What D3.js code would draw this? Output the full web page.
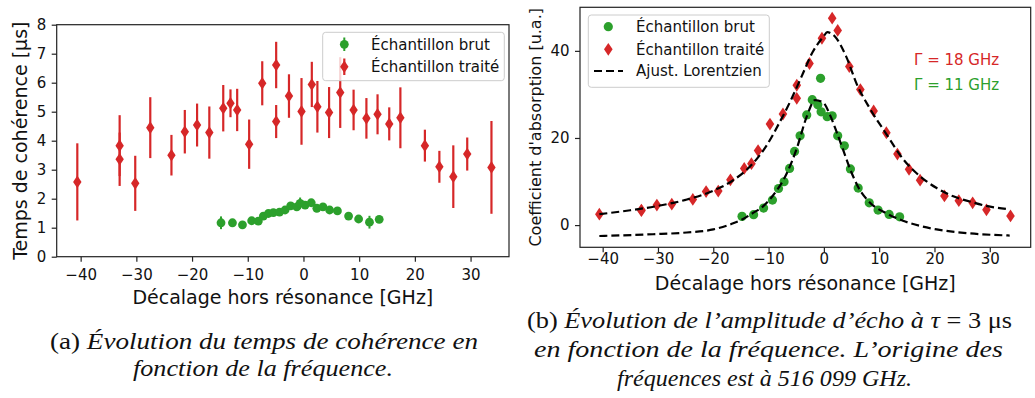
<!DOCTYPE html>
<html><head><meta charset="utf-8">
<script src="https://cdn.jsdelivr.net/npm/d3@7"></script>
<style>body{margin:0;background:#fff}svg{display:block}</style>
</head><body>
<svg id="c" width="1035" height="398"></svg>
<script>
// ---------- DATA ----------
// (a) coherence time vs detuning
const coherXBrut = [-14.8, -12.75, -10.95, -9.3, -8.1, -7.2, -6.3, -5.4, -4.3, -3.3, -2.3, -1.2, -0.6, 0.3, 1.4, 2.4, 3.5, 4.7, 6.1, 8.1, 9.9, 11.85, 13.6];
const coherYBrut = [1.17, 1.17, 1.10, 1.24, 1.23, 1.40, 1.49, 1.52, 1.54, 1.61, 1.75, 1.72, 1.84, 1.78, 1.86, 1.67, 1.72, 1.61, 1.58, 1.40, 1.30, 1.19, 1.29];
const coherErrBrut = [0.22, 0.1, 0.1, 0.12, 0.1, 0.1, 0.08, 0.1, 0.1, 0.1, 0.12, 0.1, 0.2, 0.1, 0.1, 0.1, 0.1, 0.1, 0.1, 0.1, 0.1, 0.22, 0.1];

const coherXTraite = [-40.6, -33.0, -33.0, -30.2, -27.5, -23.7, -21.3, -19.1, -16.9, -14.4, -13.1, -11.9, -9.75, -7.4, -4.9, -4.9, -2.6, -0.35, 1.5, 2.5, 4.6, 6.6, 9.0, 11.3, 13.3, 15.4, 17.4, 21.8, 24.4, 26.9, 29.4, 33.75];
const coherYTraite = [2.58, 3.83, 3.36, 2.53, 4.45, 3.50, 4.31, 4.54, 4.28, 5.12, 5.29, 5.06, 3.88, 5.98, 6.61, 4.66, 5.54, 5.01, 5.94, 5.17, 4.97, 5.66, 5.06, 4.77, 4.91, 4.58, 4.79, 3.83, 3.10, 2.76, 3.54, 3.08];
const coherErrTraite = [1.33, 1.05, 0.92, 0.95, 1.05, 0.70, 0.75, 0.74, 0.90, 0.80, 0.48, 0.73, 0.85, 0.76, 0.80, 0.57, 0.75, 1.15, 0.78, 0.89, 0.88, 1.22, 0.70, 0.70, 0.69, 0.57, 1.05, 0.55, 0.55, 1.08, 0.57, 1.60];

// (b) echo amplitude vs detuning
const absXBrut = [-14.8, -12.7, -10.9, -9.3, -8.2, -7.2, -6.2, -5.3, -4.3, -3.1, -2.1, -1.1, -0.6, -0.5, 0.6, 1.5, 2.5, 3.7, 4.8, 6.2, 8.2, 9.8, 11.8, 13.7];
const absYBrut = [2.0, 2.4, 3.9, 5.75, 8.4, 9.95, 13.0, 16.9, 20.5, 25.3, 28.8, 27.6, 33.7, 26.0, 24.9, 25.1, 20.5, 18.2, 12.9, 8.5, 5.1, 3.45, 2.45, 1.9];

const absXTraite = [-40.6, -33.0, -33.0, -30.2, -27.5, -23.7, -21.3, -19.1, -16.9, -14.4, -13.1, -11.9, -9.75, -7.4, -4.9, -4.9, -2.6, -0.35, 1.5, 2.5, 4.6, 6.6, 9.0, 11.3, 13.3, 15.4, 17.4, 21.8, 24.4, 26.9, 29.4, 33.75];
const absYTraite = [2.5, 3.45, 3.3, 4.6, 4.8, 5.9, 7.7, 7.8, 10.4, 13.0, 14.1, 17.1, 23.2, 25.5, 32.1, 29.1, 37.1, 42.9, 47.5, 44.7, 36.4, 31.1, 26.2, 21.2, 16.3, 12.8, 10.3, 6.7, 5.6, 5.1, 3.5, 2.1];

// Lorentzian fits
const fitXTraite = [-40.6, -35, -30, -25, -20, -16.4, -12.8, -10.4, -8, -6, -4, -2, 0, 0.6, 2, 4, 6, 8.3, 11.3, 14.3, 17.4, 20.4, 23.4, 26.4, 29.4, 33.6];
const fitYTraite = [2.5, 3.4, 4.4, 5.8, 7.9, 10.3, 14.2, 18.2, 23.6, 28.6, 34.2, 39.8, 43.4, 44.3, 43.3, 38.8, 32.2, 26.8, 20.9, 15.2, 11.2, 8.5, 6.6, 5.4, 4.4, 3.6];
const fitXBrut = [-40.6, -30.9, -24.8, -20, -16.4, -14.6, -12.8, -11, -9.2, -6.7, -4.9, -3.1, -1.6, -0.1, 1.1, 2.3, 3.5, 4.7, 6.3, 8.3, 11.3, 14.3, 17.4, 20.4, 26.4, 33.6];
const fitYBrut = [-2.5, -2.1, -1.7, -1.0, 0.4, 1.4, 2.8, 4.3, 6.8, 11.9, 17.6, 24.9, 28.7, 28.1, 25.3, 21.4, 17.2, 13.0, 8.5, 5.2, 2.7, 1.0, -0.2, -1.0, -1.9, -2.4];

const xTicks = [-40, -30, -20, -10, 0, 10, 20, 30];
const yTicksA = [0, 1, 2, 3, 4, 5, 6, 7, 8];
const yTicksB = [0, 20, 40];

const labelsText = {
  xlabel: "Décalage hors résonance [GHz]",
  ylabelA: "Temps de cohérence [μs]",
  ylabelB: "Coefficient d'absorption [u.a.]",
  brut: "Échantillon brut",
  traite: "Échantillon traité",
  fit: "Ajust. Lorentzien",
  gamma18: "Γ = 18 GHz",
  gamma11: "Γ = 11 GHz"
};

// ---------- DRAW ----------
const RED = "#d62728", GREEN = "#2ca02c";
const FONT = "'DejaVu Sans', sans-serif";
const svg = d3.select("#c");
const fmt = d3.format("");

function diamond(w, h) { return `M0,${-h}L${w},0L0,${h}L${-w},0Z`; }

function frame(g, x, y, xt, yt, xPad, yPad) {
  const [x0, x1] = x.range(), [y0, y1] = y.range();
  const ax = g.append("g").attr("transform", `translate(0,${y0})`)
    .call(d3.axisBottom(x).tickValues(xt).tickSize(5).tickPadding(xPad).tickFormat(fmt));
  const ay = g.append("g").attr("transform", `translate(${x0},0)`)
    .call(d3.axisLeft(y).tickValues(yt).tickSize(5).tickPadding(yPad).tickFormat(fmt));
  [ax, ay].forEach(a => {
    a.select(".domain").remove();
    a.selectAll("line").attr("stroke", "#222").attr("stroke-width", 1.2);
    a.selectAll("text").attr("font-family", FONT).attr("font-size", 15).attr("fill", "#111");
  });
  g.append("rect").attr("x", x0).attr("y", y1).attr("width", x1 - x0).attr("height", y0 - y1)
    .attr("fill", "none").attr("stroke", "#222").attr("stroke-width", 1.2);
}

// ---- Panel (a) ----
const xA = d3.scaleLinear().domain([-44.3, 36.9]).range([56.7, 509]);
const yA = d3.scaleLinear().domain([0, 8]).range([256.7, 24.7]);
const gA = svg.append("g");

const brutA = coherXBrut.map((v, i) => ({x: v, y: coherYBrut[i], e: coherErrBrut[i]}));
const traiteA = coherXTraite.map((v, i) => ({x: v, y: coherYTraite[i], e: coherErrTraite[i]}));

gA.append("g").selectAll("line").data(brutA).join("line")
  .attr("x1", d => xA(d.x)).attr("x2", d => xA(d.x))
  .attr("y1", d => yA(d.y - d.e)).attr("y2", d => yA(d.y + d.e))
  .attr("stroke", GREEN).attr("stroke-width", 2);
gA.append("g").selectAll("circle").data(brutA).join("circle")
  .attr("cx", d => xA(d.x)).attr("cy", d => yA(d.y)).attr("r", 4.4).attr("fill", GREEN);

gA.append("g").selectAll("line").data(traiteA).join("line")
  .attr("x1", d => xA(d.x)).attr("x2", d => xA(d.x))
  .attr("y1", d => yA(d.y - d.e)).attr("y2", d => yA(d.y + d.e))
  .attr("stroke", RED).attr("stroke-width", 2.2);
gA.append("g").selectAll("path").data(traiteA).join("path")
  .attr("transform", d => `translate(${xA(d.x)},${yA(d.y)})`)
  .attr("d", diamond(4.2, 6.3)).attr("fill", RED);

frame(gA, xA, yA, xTicks, yTicksA, 8, 5.5);

gA.append("text").attr("x", xA(-3.7)).attr("y", 304)
  .attr("text-anchor", "middle").attr("font-family", FONT).attr("font-size", 19).attr("fill", "#111")
  .text(labelsText.xlabel);
gA.append("text").attr("transform", "translate(26.5,140.7) rotate(-90)")
  .attr("text-anchor", "middle").attr("font-family", FONT).attr("font-size", 19).attr("fill", "#111")
  .text(labelsText.ylabelA);

// legend (a)
const lgA = gA.append("g");
lgA.append("rect").attr("x", 322.7).attr("y", 32.3).attr("width", 181.6).attr("height", 48.4).attr("rx", 3)
  .attr("fill", "#fff").attr("fill-opacity", 0.8).attr("stroke", "#ccc").attr("stroke-width", 1);
lgA.append("line").attr("x1", 344.3).attr("x2", 344.3).attr("y1", 37.5).attr("y2", 51)
  .attr("stroke", GREEN).attr("stroke-width", 2);
lgA.append("circle").attr("cx", 344.3).attr("cy", 44.3).attr("r", 4.4).attr("fill", GREEN);
lgA.append("line").attr("x1", 344.3).attr("x2", 344.3).attr("y1", 58.5).attr("y2", 75)
  .attr("stroke", RED).attr("stroke-width", 2.2);
lgA.append("path").attr("transform", "translate(344.3,66.7)").attr("d", diamond(4.2, 6.3)).attr("fill", RED);
lgA.append("text").attr("x", 371).attr("y", 49.7).attr("font-family", FONT).attr("font-size", 15).attr("fill", "#111").text(labelsText.brut);
lgA.append("text").attr("x", 371).attr("y", 72.1).attr("font-family", FONT).attr("font-size", 15).attr("fill", "#111").text(labelsText.traite);

// ---- Panel (b) ----
const xB = d3.scaleLinear().domain([-44.1, 37.4]).range([580, 1030.7]);
const yB = d3.scaleLinear().domain([-5.1, 50]).range([247.3, 7.3]);
const gB = svg.append("g");

const brutB = absXBrut.map((v, i) => ({x: v, y: absYBrut[i]}));
const traiteB = absXTraite.map((v, i) => ({x: v, y: absYTraite[i]}));

gB.append("g").selectAll("circle").data(brutB).join("circle")
  .attr("cx", d => xB(d.x)).attr("cy", d => yB(d.y)).attr("r", 4.6).attr("fill", GREEN);
gB.append("g").selectAll("path").data(traiteB).join("path")
  .attr("transform", d => `translate(${xB(d.x)},${yB(d.y)})`)
  .attr("d", diamond(4.3, 6.4)).attr("fill", RED);

const line = d3.line().x(d => xB(d[0])).y(d => yB(d[1])).curve(d3.curveMonotoneX);
gB.append("path").attr("d", line(fitXTraite.map((v, i) => [v, fitYTraite[i]])))
  .attr("fill", "none").attr("stroke", "#000").attr("stroke-width", 2.2).attr("stroke-dasharray", "8,4");
gB.append("path").attr("d", line(fitXBrut.map((v, i) => [v, fitYBrut[i]])))
  .attr("fill", "none").attr("stroke", "#000").attr("stroke-width", 2.2).attr("stroke-dasharray", "8,4");

frame(gB, xB, yB, xTicks, yTicksB, 1.5, 5.5);

gB.append("text").attr("x", 805.3).attr("y", 289.5)
  .attr("text-anchor", "middle").attr("font-family", FONT).attr("font-size", 19).attr("fill", "#111")
  .text(labelsText.xlabel);
gB.append("text").attr("transform", "translate(541,127.3) rotate(-90)")
  .attr("text-anchor", "middle").attr("font-family", FONT).attr("font-size", 16).attr("fill", "#111")
  .text(labelsText.ylabelB);

gB.append("text").attr("x", 914).attr("y", 64.5).attr("font-family", FONT).attr("font-size", 15).attr("fill", RED).text(labelsText.gamma18);
gB.append("text").attr("x", 914).attr("y", 89.8).attr("font-family", FONT).attr("font-size", 15).attr("fill", GREEN).text(labelsText.gamma11);

const lgB = gB.append("g");
lgB.append("rect").attr("x", 588.3).attr("y", 15).attr("width", 181).attr("height", 72.3).attr("rx", 3)
  .attr("fill", "#fff").attr("fill-opacity", 0.8).attr("stroke", "#ccc").attr("stroke-width", 1);
lgB.append("circle").attr("cx", 608.3).attr("cy", 26.7).attr("r", 4.6).attr("fill", GREEN);
lgB.append("path").attr("transform", "translate(608.3,49.3)").attr("d", diamond(4.3, 6.4)).attr("fill", RED);
lgB.append("line").attr("x1", 594).attr("x2", 623).attr("y1", 71).attr("y2", 71)
  .attr("stroke", "#000").attr("stroke-width", 2.2).attr("stroke-dasharray", "8,4");
[[labelsText.brut, 32.1], [labelsText.traite, 54.7], [labelsText.fit, 76.4]].forEach(([t, yy]) =>
  lgB.append("text").attr("x", 636).attr("y", yy).attr("font-family", FONT).attr("font-size", 15).attr("fill", "#111").text(t));

// ---- Captions ----
const SERIF = "'Liberation Serif', serif";
function caption(cx, y, w, parts) {
  const t = svg.append("text").attr("x", cx).attr("y", y).attr("text-anchor", "middle")
    .attr("font-family", SERIF).attr("font-size", 23).attr("fill", "#111")
    .attr("textLength", w).attr("lengthAdjust", "spacingAndGlyphs");
  parts.forEach(([s, it]) => t.append("tspan").attr("font-style", it ? "italic" : "normal").text(s));
}
caption(264, 349, 428, [["(a) ", false], ["Évolution du temps de cohérence en", true]]);
caption(263, 376, 260, [["fonction de la fréquence.", true]]);
caption(769.5, 328, 485, [["(b) ", false], ["Évolution de l’amplitude d’écho à ", true], ["τ", true], [" = 3 μs", false]]);
caption(768.5, 357, 469, [["en fonction de la fréquence. L’origine des", true]]);
caption(764.5, 386, 295, [["fréquences est à 516 099 GHz.", true]]);
</script></body></html>
